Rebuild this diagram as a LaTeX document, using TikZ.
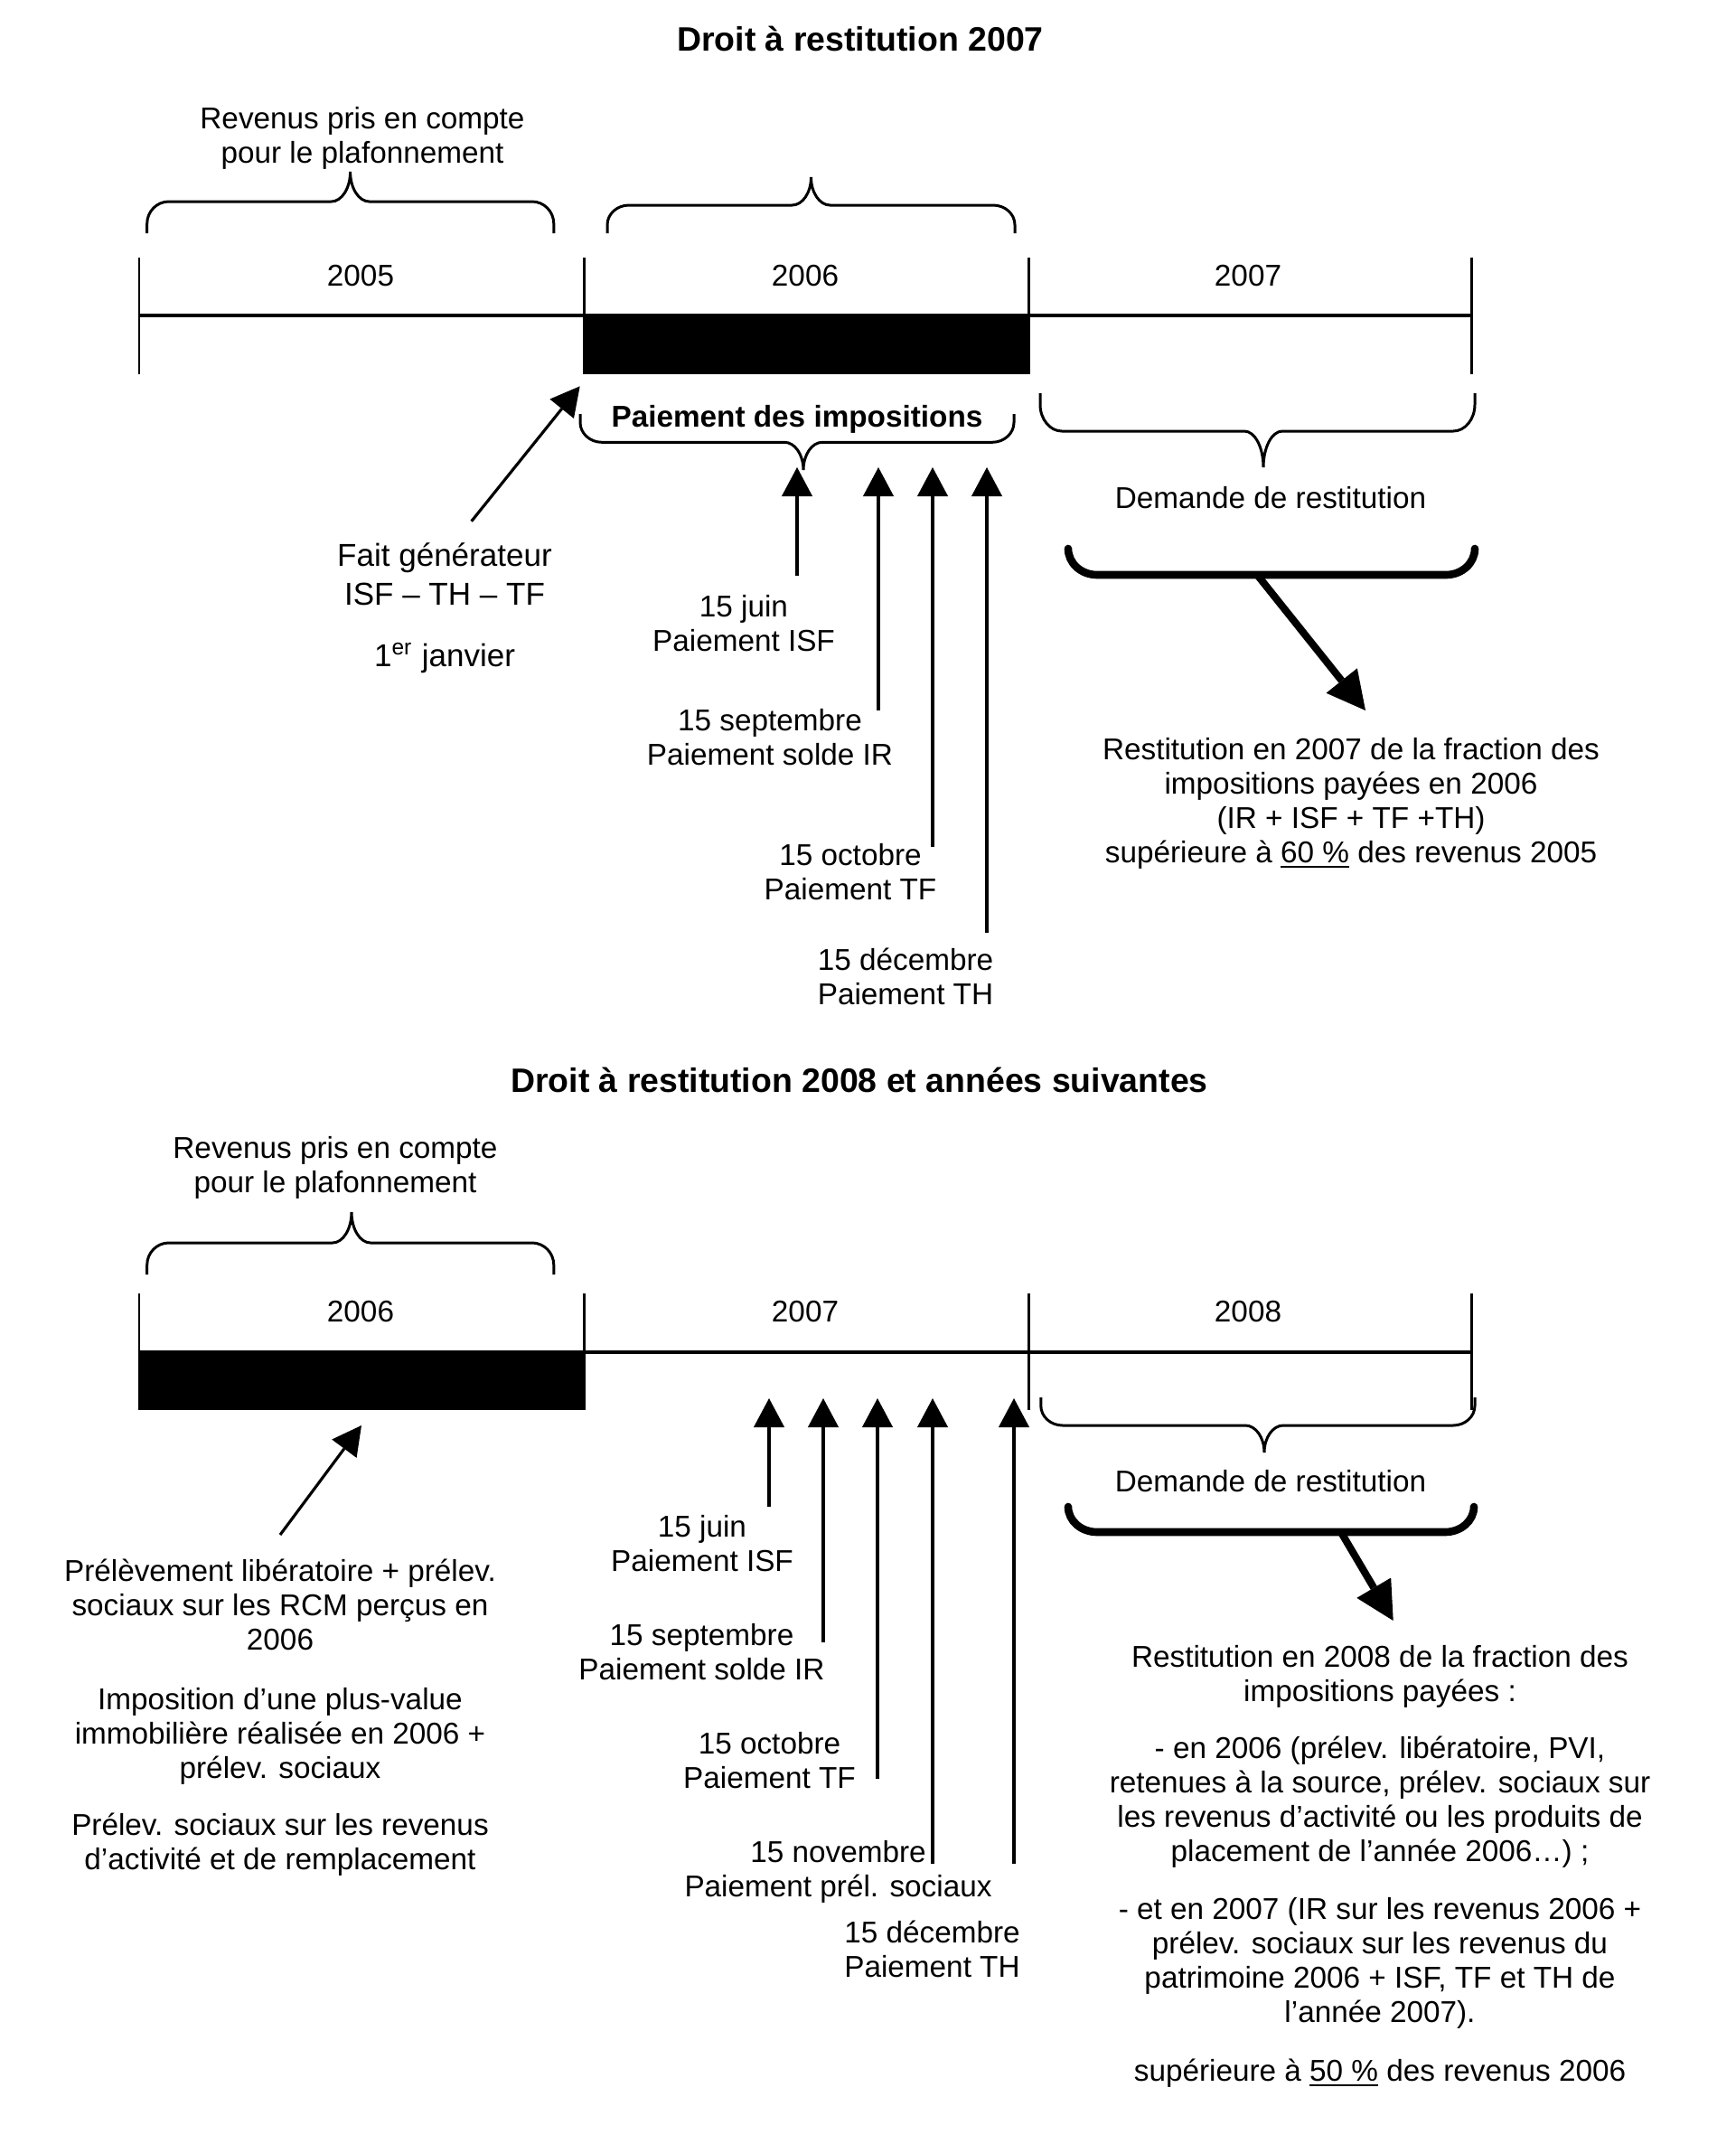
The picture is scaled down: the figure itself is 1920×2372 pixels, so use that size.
\documentclass[tikz,border=0pt]{standalone}
\usepackage{fontspec}
\setmainfont{Liberation Sans}
\usetikzlibrary{arrows.meta}

\newcommand{\fnA}{\fontsize{9.47pt}{10.75pt}\selectfont}
\newcommand{\fnF}{\fontsize{9.96pt}{12.1pt}\selectfont}
\newcommand{\fnT}{\fontsize{10.64pt}{12pt}\selectfont\bfseries}
\newcommand{\ulk}[1]{\leavevmode\vtop{\hbox{#1}\kern0.9pt\hrule height 0.8pt}}

% curly brace: #1 x1, #2 x2, #3 yend, #4 yflat, #5 xtip, #6 ytip
\newcommand{\cbrace}[6]{%
  \draw[brc] (#1,#3) -- (#1,{#3+(#4-#3)*0.3})
    .. controls (#1,{#4-(#4-#3)*0.7*0.45}) and ({#1+24*0.45},#4) .. ({#1+24},#4)
    -- ({#5-21},#4)
    .. controls ({#5-21+21*0.5523},#4) and (#5,{#6+(#4-#6)*0.5523}) .. (#5,#6)
    .. controls (#5,{#6+(#4-#6)*0.5523}) and ({#5+21-21*0.5523},#4) .. ({#5+21},#4)
    -- ({#2-24},#4)
    .. controls ({#2-24*0.45},#4) and (#2,{#4-(#4-#3)*0.7*0.45}) .. (#2,{#3+(#4-#3)*0.3})
    -- (#2,#3);}
% thick bracket: #1 x1, #2 x2, #3 yend, #4 yflat
\newcommand{\tbracket}[4]{%
  \draw[thk] (#1,#3) .. controls (#1,{#3+(#4-#3)*0.5523}) and ({#1+32*0.4477},#4) .. ({#1+32},#4)
    -- ({#2-32},#4)
    .. controls ({#2-32*0.4477},#4) and (#2,{#3+(#4-#3)*0.5523}) .. (#2,#3);}

\tikzset{
  txt/.style={font=\fnA, inner sep=0pt, anchor=base, align=center},
  txtb/.style={font=\fnA\bfseries, inner sep=0pt, anchor=base, align=center},
  txtf/.style={font=\fnF, inner sep=0pt, anchor=base, align=center},
  ttl/.style={font=\fnT, inner sep=0pt, anchor=base, align=center},
  axisln/.style={line width=1.14pt},
  tick/.style={line width=0.85pt},
  brc/.style={line width=0.85pt},
  thk/.style={line width=2.45pt, line cap=round},
  uparr/.style={line width=0.9pt, -{Triangle[length=9.1pt,width=9.7pt,line width=0pt]}},
  bigarr/.style={line width=2.3pt, -{Triangle[length=12pt,width=12.5pt,line width=0pt]}},
}

\begin{document}
\begin{tikzpicture}[x=0.01cm, y=-0.01cm]
\fill[white] (0,0) rectangle (1920,2372);
\useasboundingbox (0,0) rectangle (1920,2372);

% ================= TOP DIAGRAM =================
\node[ttl] (t1) at (952,56) {Droit à restitution 2007};

% (multi-line nodes: y is the baseline of the last line)
\node[txt] (rev1) at (401,180) {Revenus pris en compte\\pour le plafonnement};
\cbrace{162.7}{612.8}{258}{223}{387.6}{190}
\cbrace{672}{1123}{258}{227}{897.5}{196}

% timeline
\fill (646,349) rectangle (1138,414);
\draw[axisln] (154,349) -- (1628,349);
\foreach \xx in {154,646,1138,1628} \draw[tick] (\xx,285) -- (\xx,414);
\node[txt] (ya1) at (399,316) {2005};
\node[txt] (ya2) at (891,316) {2006};
\node[txt] (ya3) at (1381,316) {2007};

% brace under 2006
\node[txtb] (paie) at (882,472) {Paiement des impositions};
\cbrace{642}{1122}{458}{489.3}{889}{520}

% brace under 2007
\cbrace{1151}{1632}{435}{477}{1398}{517}
\node[txt] (dem1) at (1406,562) {Demande de restitution};
\tbracket{1182}{1632}{607}{636}

% fait generateur
\node[txtf] (fait) at (492,669) {Fait générateur\\ISF – TH – TF};
\node[txtf] (janv) at (492,737) {1\textsuperscript{er} janvier};
\coordinate (fs) at (521.7,576.7);
\coordinate (ft) at (641.7,427.3);
\draw[uparr] (fs) -- (ft);

% payment arrows
\coordinate (a1s) at (882,637);  \coordinate (a1t) at (882,517);
\coordinate (a2s) at (972,786);  \coordinate (a2t) at (972,517);
\coordinate (a3s) at (1032,937); \coordinate (a3t) at (1032,517);
\coordinate (a4s) at (1092,1032);\coordinate (a4t) at (1092,517);
\draw[uparr] (a1s) -- (a1t);
\draw[uparr] (a2s) -- (a2t);
\draw[uparr] (a3s) -- (a3t);
\draw[uparr] (a4s) -- (a4t);

\node[txt] (l1) at (823,720) {15 juin\\Paiement ISF};
\node[txt] (l2) at (852,846) {15 septembre\\Paiement solde IR};
\node[txt] (l3) at (941,995) {15 octobre\\Paiement TF};
\node[txt] (l4) at (1002,1111) {15 décembre\\Paiement TH};

% restitution
\coordinate (bk1) at (1392,637);
\coordinate (bk1t) at (1511,786);
\draw[bigarr] (bk1) -- (bk1t);
\node[txt] (rest1) at (1495,954) {Restitution en 2007 de la fraction des\\impositions payées en 2006\\(IR + ISF + TF +TH)\\supérieure à \ulk{60 \%} des revenus 2005};

% ================= BOTTOM DIAGRAM =================
\node[ttl] (t2) at (951,1208) {Droit à restitution 2008 et années suivantes};

\node[txt] (rev2) at (371,1319) {Revenus pris en compte\\pour le plafonnement};
\cbrace{162.7}{612.8}{1410}{1375}{389}{1341}

\fill (154,1496) rectangle (646,1560);
\draw[axisln] (154,1496) -- (1628,1496);
\foreach \xx in {154,646,1138,1628} \draw[tick] (\xx,1431) -- (\xx,1560);
\node[txt] (yb1) at (399,1462) {2006};
\node[txt] (yb2) at (891,1462) {2007};
\node[txt] (yb3) at (1381,1462) {2008};

\cbrace{1151.8}{1632}{1546}{1577}{1399}{1607}
\node[txt] (dem2) at (1406,1650) {Demande de restitution};
\tbracket{1182}{1631}{1667}{1695}

% left arrow + text
\coordinate (gs) at (310,1698);
\coordinate (gt) at (400,1577);
\draw[uparr] (gs) -- (gt);
\node[txt] (lb1) at (310,1825) {Prélèvement libératoire + prélev.\\sociaux sur les RCM perçus en\\2006};
\node[txt] (lb2) at (310,1967) {Imposition d’une plus-value\\immobilière réalisée en 2006 +\\prélev. sociaux};
\node[txt] (lb3) at (310,2068) {Prélev. sociaux sur les revenus\\d’activité et de remplacement};

% payment arrows
\coordinate (b1s) at (851,1667);  \coordinate (b1t) at (851,1547);
\coordinate (b2s) at (911,1817);  \coordinate (b2t) at (911,1547);
\coordinate (b3s) at (971,1968);  \coordinate (b3t) at (971,1547);
\coordinate (b4s) at (1032,2062); \coordinate (b4t) at (1032,1547);
\coordinate (b5s) at (1122,2062); \coordinate (b5t) at (1122,1547);
\draw[uparr] (b1s) -- (b1t);
\draw[uparr] (b2s) -- (b2t);
\draw[uparr] (b3s) -- (b3t);
\draw[uparr] (b4s) -- (b4t);
\draw[uparr] (b5s) -- (b5t);

\node[txt] (m1) at (777,1738) {15 juin\\Paiement ISF};
\node[txt] (m2) at (776.5,1858) {15 septembre\\Paiement solde IR};
\node[txt] (m3) at (851.5,1978) {15 octobre\\Paiement TF};
\node[txt] (m4) at (927.5,2098) {15 novembre\\Paiement prél. sociaux};
\node[txt] (m5) at (1031.5,2187) {15 décembre\\Paiement TH};

% restitution
\coordinate (bk2) at (1485,1697);
\coordinate (bk2t) at (1541.7,1793);
\draw[bigarr] (bk2) -- (bk2t);
\node[txt] (rb1) at (1527,1882) {Restitution en 2008 de la fraction des\\impositions payées :};
\node[txt] (rb2) at (1527,2059) {- en 2006 (prélev. libératoire, PVI,\\retenues à la source, prélev. sociaux sur\\les revenus d’activité ou les produits de\\placement de l’année 2006…) ;};
\node[txt] (rb3) at (1527,2237) {- et en 2007 (IR sur les revenus 2006 +\\prélev. sociaux sur les revenus du\\patrimoine 2006 + ISF, TF et TH de\\l’année 2007).};
\node[txt] (rb4) at (1527,2302) {supérieure à \ulk{50 \%} des revenus 2006};
\end{tikzpicture}
\end{document}
